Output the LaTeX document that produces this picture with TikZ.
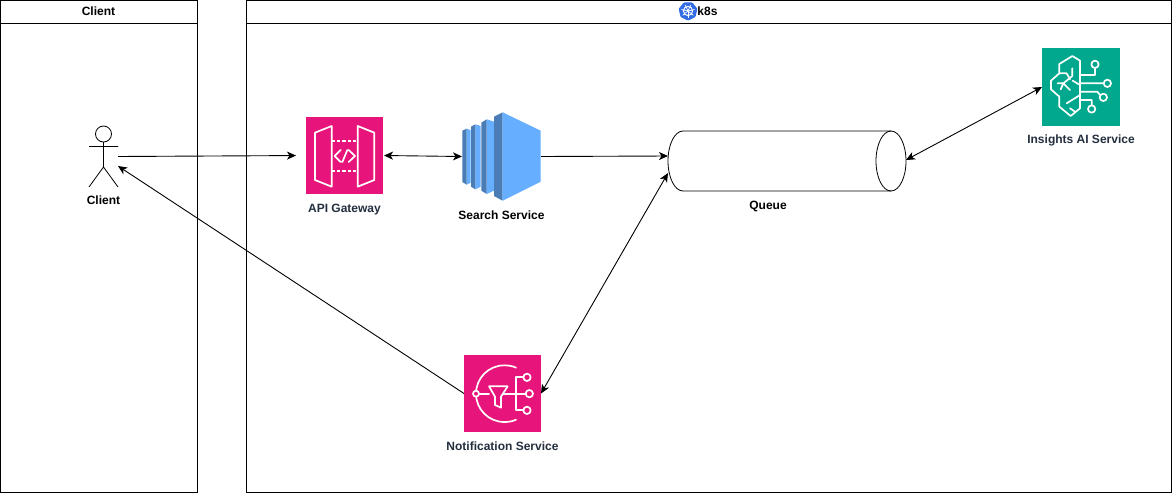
\documentclass[tikz,border=0pt]{standalone}
\usepackage{fontspec}
\setmainfont{Liberation Sans}
\usetikzlibrary{arrows.meta}
\definecolor{pinkicon}{HTML}{E7157B}
\definecolor{greenicon}{HTML}{01A88D}
\definecolor{ecl}{HTML}{66AEFF}
\definecolor{ecd}{HTML}{4A7DB5}
\definecolor{kblue}{HTML}{326CE5}
\definecolor{awstext}{HTML}{232F3E}
\tikzset{
  lane/.style={draw=black,line width=0.8pt,fill=white},
  lbl/.style={font=\bfseries\fontsize{12}{14}\selectfont,inner sep=0pt,text=black,anchor=base},
  awslbl/.style={lbl,text=awstext},
  iconbox/.style={minimum width=77pt,minimum height=77pt,inner sep=0pt,outer sep=0pt},
  ghost/.style={inner sep=0pt,outer sep=0pt},
  wire/.style={white,line width=1.7pt,line join=round,line cap=round},
  conn/.style={line width=0.9pt,black},
  end1/.style={-{Stealth[length=9pt,width=8pt,inset=2.5pt]}},
  end2/.style={{Stealth[length=9pt,width=8pt,inset=2.5pt]}-{Stealth[length=9pt,width=8pt,inset=2.5pt]}},
}
\begin{document}
\begin{tikzpicture}[x=1pt,y=-1pt]
\useasboundingbox (0,0) rectangle (1172,493);
\fill[white] (0,0) rectangle (1172,493);
% swimlanes
\node[lane,ghost,draw,minimum width=197pt,minimum height=492pt,anchor=north west] (laneclient) at (0,0) {};
\node[lane,ghost,draw,minimum width=925pt,minimum height=492pt,anchor=north west] (lanek) at (246,0) {};
\draw[line width=0.8pt] (0,23) -- (197,23) (246,23) -- (1171,23);
\node[lbl] (tclient) at (98.5,15.5) {Client};
\node[lbl] (tk) at (707.5,15.5) {k8s};
% k8s logo
\begin{scope}[shift={(688,11)}]
\fill[kblue,rounded corners=1pt] (90:9.6) -- (141:9.6) -- (193:9.6) -- (244:9.6) -- (296:9.6) -- (347:9.6) -- (39:9.6) -- cycle;
\draw[white,line width=1pt] (0,0) circle (4.6);
\foreach \a in {90,141,193,244,296,347,39} \draw[white,line width=.7pt] (0,0) -- (\a:6.8);
\fill[white] (0,0) circle (1.2);
\end{scope}
% actor
\node[ghost,minimum width=29pt,minimum height=61pt,anchor=north west] (actor) at (89,126) {};
\draw[line width=0.8pt,fill=white] (103.5,134) circle (8);
\draw[line width=0.8pt] (103.5,142) -- (103.5,167) (89,146.5) -- (118,146.5) (89,187) -- (103.5,167) -- (118,187);
\coordinate (actorin) at (118,166);
\node[lbl] (tactor) at (103.5,204) {Client};
% API gateway
\node[iconbox,fill=pinkicon,anchor=north west] (gw) at (306,117) {};
\begin{scope}[shift={(290,100)},scale=0.33333]
\draw[wire] (75,98) -- (125,78) -- (125,260) -- (75,240) -- cycle;
\draw[wire] (203,78) -- (253,98) -- (253,240) -- (203,260) -- cycle;
\draw[wire,line cap=butt,dash pattern=on 3.5pt off 1.8pt] (125,122) -- (203,122) (125,214) -- (203,214);
\draw[wire] (152,150) -- (134,168) -- (152,186) (176,150) -- (195,168) -- (176,186) (172,150) -- (157,186);
\end{scope}
\node[awslbl] (tgw) at (344.5,212) {API Gateway};
% search service
\node[ghost,minimum width=79pt,minimum height=89pt,anchor=north west] (search) at (462,112) {};
\begin{scope}[shift={(290,100)},scale=0.33333]
\fill[ecl] (530,86) -- (542,90) -- (542,248) -- (530,254) -- cycle;
\fill[ecd] (517,92) -- (530,86) -- (530,254) -- (517,246) -- cycle;
\fill[ecl] (556,73) -- (572,78) -- (572,260) -- (556,268) -- cycle;
\fill[ecd] (543,80) -- (556,73) -- (556,268) -- (543,260) -- cycle;
\fill[ecl] (590,58) -- (612,65) -- (612,272) -- (590,282) -- cycle;
\fill[ecd] (574,68) -- (590,58) -- (590,282) -- (574,272) -- cycle;
\fill[ecd] (612,50) -- (638,37) -- (638,302) -- (612,288) -- cycle;
\fill[ecl] (638,37) -- (752,92) -- (752,245) -- (638,302) -- cycle;
\end{scope}
\node[lbl] (tsearch) at (501.5,219.5) {Search Service};
% queue
\node[ghost,minimum width=238pt,minimum height=60pt,anchor=north west] (queue) at (668,131) {};
\draw[line width=0.8pt,fill=white] (683,131) -- (891,131)
  .. controls (899.3,131) and (906,144.4) .. (906,161)
  .. controls (906,177.6) and (899.3,191) .. (891,191)
  -- (683,191)
  .. controls (674.7,191) and (668,177.6) .. (668,161)
  .. controls (668,144.4) and (674.7,131) .. (683,131) -- cycle;
\draw[line width=0.8pt] (891,131)
  .. controls (882.7,131) and (876,144.4) .. (876,161)
  .. controls (876,177.6) and (882.7,191) .. (891,191);
\coordinate (qa) at (668,156);
\coordinate (qb) at (668,173);
\coordinate (qc) at (906,160);
\node[lbl] (tqueue) at (768,209) {Queue};
% insights
\node[iconbox,minimum width=78pt,minimum height=78pt,fill=greenicon,anchor=north west] (ins) at (1042,48) {};
\begin{scope}[shift={(1020,40)},scale=0.33333]
\draw[wire] (180,62) -- (157,48) -- (118,72) -- (118,100) -- (93,122) -- (93,148) -- (118,170) -- (118,200) -- (152,228) -- (180,205) -- cycle;
\draw[wire] (118,100) -- (140,100) -- (150,118) (157,85) -- (157,108) -- (130,130) -- (150,150) (113,130) -- (130,130) -- (122,148) (140,190) -- (180,165) (150,205) -- (165,215) (158,122) -- (180,135);
\draw[wire] (180,105) -- (225,105) -- (225,85) (180,130) -- (250,130) (180,155) -- (232,155) -- (240,165) (180,180) -- (215,180) -- (215,195);
\draw[wire] (225,73) circle (11) (262,130) circle (11) (250,172) circle (11) (215,207) circle (11);
\end{scope}
\node[awslbl] (tins) at (1081,143) {Insights AI Service};
% notification
\node[iconbox,fill=pinkicon,anchor=north west] (notif) at (464,355) {};
\begin{scope}[shift={(440,345)},scale=0.33333]
\draw[wire] (228,68) .. controls (218,63) and (205,61) .. (193,61) .. controls (146,61) and (108,99) .. (108,146) .. controls (108,193) and (146,231) .. (193,231) .. controls (205,231) and (218,229) .. (228,224);
\draw[wire,fill=pinkicon] (108,146) circle (9);
\draw[wire] (118,146) -- (147,146) (190,146) -- (258,146) (250,97) -- (228,97) -- (228,196) -- (250,196);
\draw[wire,fill=pinkicon] (147,124) -- (203,124) -- (183,155) -- (183,188) -- (165,180) -- (165,155) -- cycle;
\draw[wire] (261,97) circle (11) (268,146) circle (11) (261,196) circle (11);
\end{scope}
\node[awslbl] (tnotif) at (502.5,450) {Notification Service};
% connectors
\draw[conn,end1,shorten >=10pt] (actor.east) -- (gw.west);
\draw[conn,end2,shorten <=1pt] (gw.east) -- (search.west);
\draw[conn,end1] (search.east) -- (qa);
\draw[conn,end2] (qb) -- (notif.east);
\draw[conn,end2] (qc) -- (ins.west);
\draw[conn,end1] (notif.west) -- (actorin);
\end{tikzpicture}
\end{document}
